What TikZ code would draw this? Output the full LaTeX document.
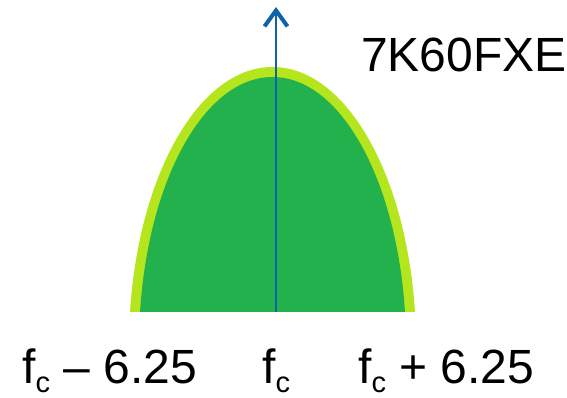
\documentclass[tikz,border=0pt]{standalone}
\usepackage{fontspec}
\setmainfont{Liberation Sans}
\usetikzlibrary{arrows.meta}
\definecolor{lobe}{RGB}{34,177,76}
\definecolor{rim}{RGB}{181,230,29}
\definecolor{carrier}{RGB}{14,98,170}
\newcommand{\fsub}{f\raisebox{-9pt}{\fontsize{29}{29}\selectfont c}}
\tikzset{
  freq/.style={anchor=base west, inner sep=0pt, font=\fontsize{48}{52}\selectfont},
  tag/.style={anchor=base west, inner sep=0pt, font=\fontsize{48}{52}\selectfont},
  pilot/.style={-{Straight Barb[length=16pt,width=23pt,line width=4pt]}, carrier, line width=1.8pt},
}

\begin{document}
\begin{tikzpicture}[x=1pt,y=1pt]
  \useasboundingbox (0,0) rectangle (567,398);
  % spectrum lobe, cut at the baseline
  \begin{scope}
    \clip (100,86) rectangle (450,398);
    \fill[rim] (272.5,51) ellipse [x radius=143.6, y radius=280];
    \fill[lobe] (272.5,51) ellipse [x radius=133.6, y radius=270];
  \end{scope}
  \coordinate (base) at (276,86);
  \coordinate (tip) at (276,391);
  \draw[pilot] (base) -- (tip);
  \node[tag] (emis) at (361,326) {7K60FXE};
  \node[freq] (lo) at (22,14) {\fsub{} – 6.25};
  \node[freq] (mid) at (262,14) {\fsub};
  \node[freq] (hi) at (358,14) {\fsub{} + 6.25};
\end{tikzpicture}
\end{document}
